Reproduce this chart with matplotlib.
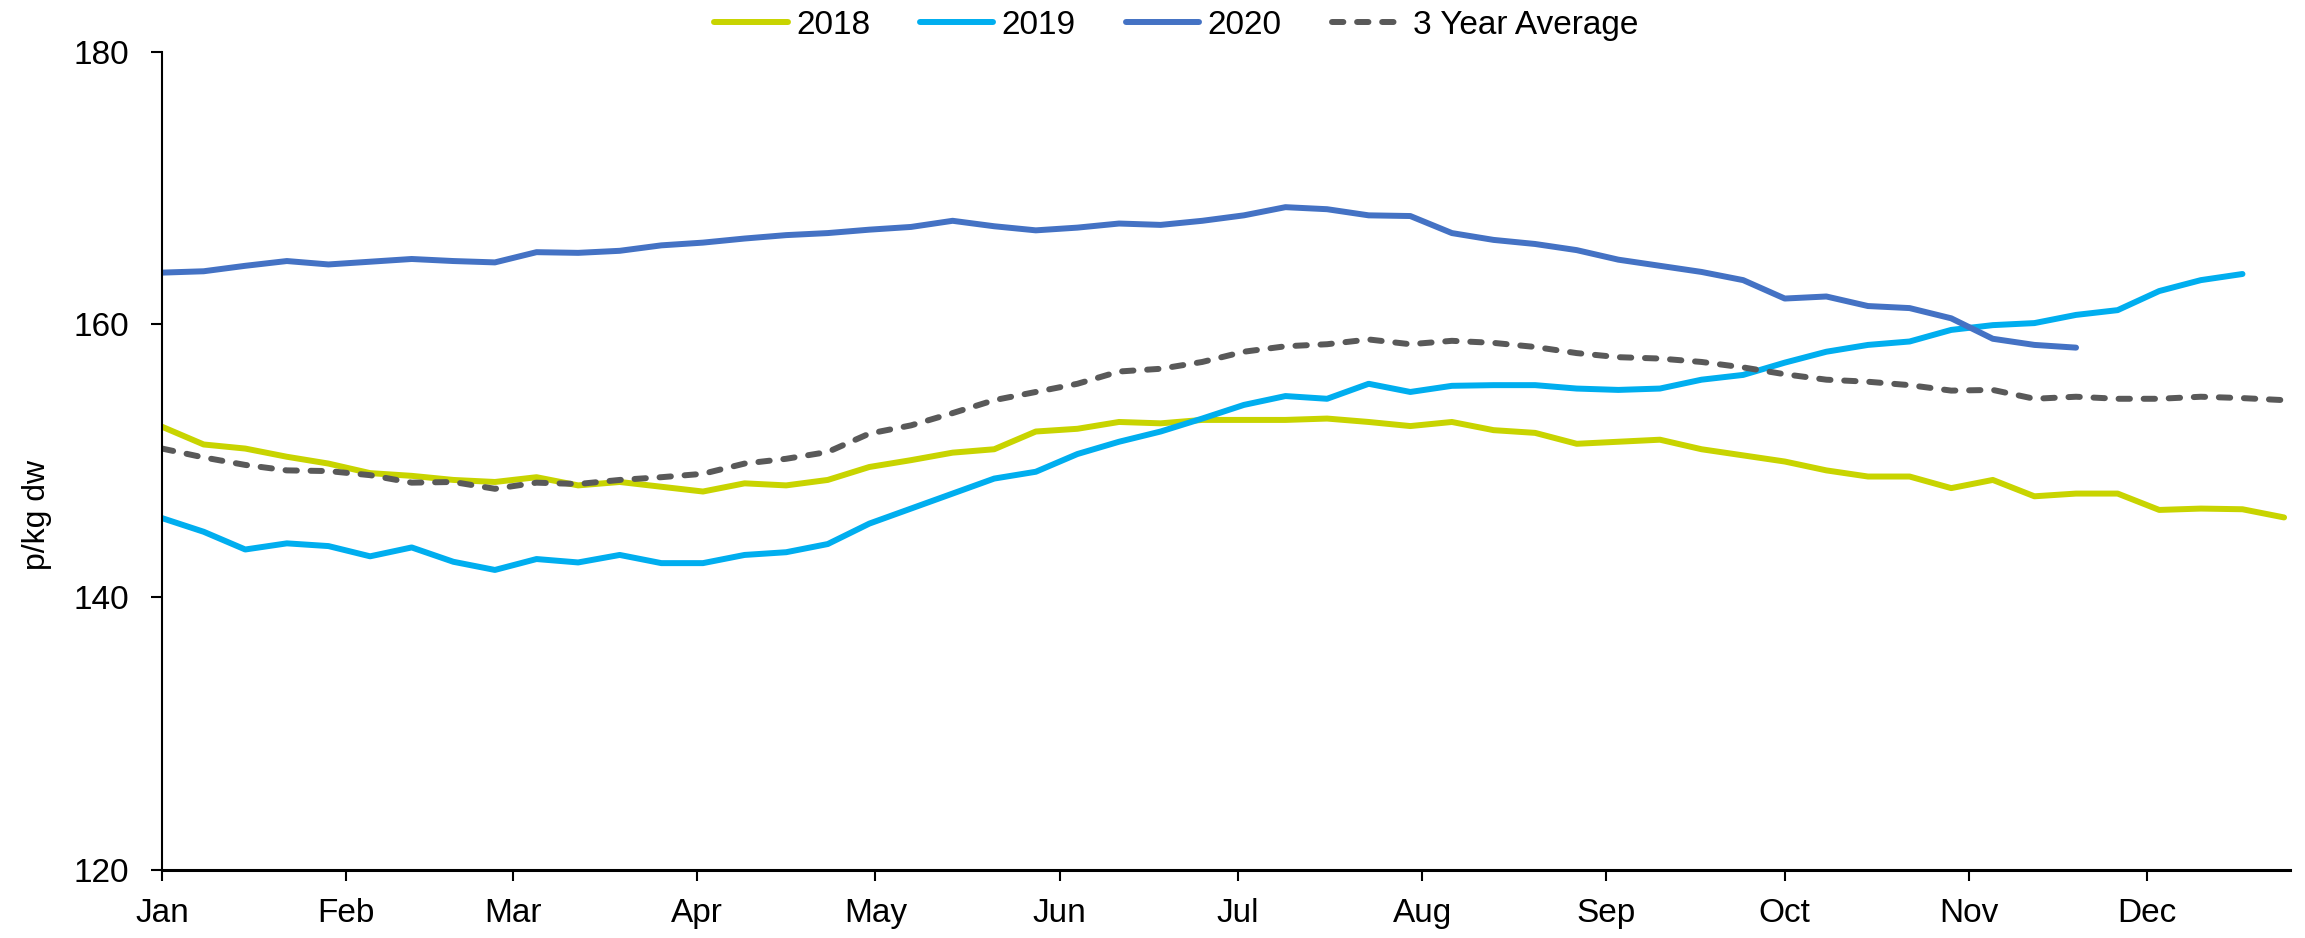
#!/usr/bin/env python
"""
Weekly deadweight prices, 2018-2020 and the 3 year average
"""

import matplotlib
matplotlib.use("Agg")
import matplotlib.pyplot as plt

# month tick labels and their day of year
MONTHS = ["Jan", "Feb", "Mar", "Apr", "May", "Jun",
          "Jul", "Aug", "Sep", "Oct", "Nov", "Dec"]
MONTH_DAYS = [0, 31, 59, 90, 120, 151, 181, 212, 243, 273, 304, 334]

# weekly prices in p/kg dw
price_2018 = [152.5, 151.2, 150.9, 150.3, 149.8, 149.1, 148.9, 148.6, 148.45, 148.8,
              148.2, 148.45, 148.1, 147.75, 148.35, 148.2, 148.6, 149.55, 150.05, 150.6,
              150.85, 152.15, 152.35, 152.85, 152.75, 153.0, 153.0, 153.0, 153.1, 152.85,
              152.55, 152.85, 152.25, 152.05, 151.25, 151.4, 151.55, 150.85, 150.4, 149.95,
              149.3, 148.85, 148.85, 148.0, 148.6, 147.4, 147.6, 147.6, 146.4, 146.5,
              146.45, 145.85]
price_2019 = [145.8, 144.8, 143.5, 143.95, 143.75, 143.0, 143.65, 142.6, 142.0, 142.8,
              142.55, 143.1, 142.5, 142.5, 143.1, 143.3, 143.9, 145.4, 146.5, 147.6,
              148.7, 149.2, 150.5, 151.4, 152.15, 153.1, 154.1, 154.75, 154.55, 155.65,
              155.05, 155.5, 155.55, 155.55, 155.3, 155.2, 155.3, 155.95, 156.3, 157.2,
              158.0, 158.5, 158.75, 159.6, 159.95, 160.1, 160.7, 161.05, 162.45, 163.25,
              163.7]
price_2020 = [163.8, 163.9, 164.3, 164.65, 164.4, 164.6, 164.8, 164.65, 164.55, 165.3,
              165.25, 165.4, 165.8, 166.0, 166.3, 166.55, 166.7, 166.95, 167.15, 167.6,
              167.2, 166.9, 167.1, 167.4, 167.3, 167.6, 168.0, 168.6, 168.45, 168.0,
              167.95, 166.7, 166.2, 165.9, 165.45, 164.75, 164.3, 163.85, 163.25, 161.9,
              162.05, 161.35, 161.2, 160.45, 158.95, 158.5, 158.3]
price_avg = [150.9, 150.25, 149.7, 149.3, 149.25, 148.95, 148.4, 148.45, 147.95, 148.4,
             148.3, 148.6, 148.8, 149.05, 149.8, 150.15, 150.65, 152.0, 152.6, 153.5,
             154.45, 155.05, 155.65, 156.55, 156.75, 157.25, 158.0, 158.4, 158.55, 158.9,
             158.55, 158.8, 158.65, 158.35, 157.9, 157.6, 157.5, 157.25, 156.85, 156.35,
             155.95, 155.8, 155.55, 155.15, 155.2, 154.55, 154.7, 154.55, 154.55, 154.7,
             154.6, 154.45]


def week_days(values):
    # one point per week, counted in days from 1 Jan
    return [7 * i for i in range(len(values))]


if __name__ == "__main__":
    plt.rcParams["font.family"] = ["Liberation Sans", "DejaVu Sans"]

    fig = plt.figure(figsize=(23.05, 9.38), dpi=100)
    ax = fig.add_axes([0.0703, 0.0725, 0.9232, 0.8724])

    LW = 4.3
    ax.plot(week_days(price_2018), price_2018, color="#C8D400", lw=LW,
            solid_capstyle="round", label="2018")
    ax.plot(week_days(price_2019), price_2019, color="#00AEEF", lw=LW,
            solid_capstyle="round", label="2019")
    ax.plot(week_days(price_2020), price_2020, color="#4472C4", lw=LW,
            solid_capstyle="round", label="2020")
    ax.plot(week_days(price_avg), price_avg, color="#595959", lw=LW,
            dashes=(1.9, 2.3), dash_capstyle="round", label="3 Year Average")

    ax.set_xlim(0, 358)
    ax.set_ylim(120, 180)
    ax.set_xticks(MONTH_DAYS)
    ax.set_xticklabels(MONTHS)
    ax.set_yticks([120, 140, 160, 180])

    for side in ["top", "right"]:
        ax.spines[side].set_visible(False)
    ax.spines["left"].set_linewidth(1.5)
    ax.spines["bottom"].set_linewidth(2.2)
    ax.tick_params(axis="y", direction="out", length=8, width=1.5,
                   labelsize=24, pad=16)
    ax.tick_params(axis="x", direction="out", length=8, width=1.5,
                   labelsize=24, pad=12)

    fig.text(37 / 2305, 1 - 515 / 938, "p/kg dw", rotation=90,
             ha="center", va="center", fontsize=23)

    ax.legend(loc="center", bbox_to_anchor=(0.5104, 0.973),
              bbox_transform=fig.transFigure, ncol=4, frameon=False,
              fontsize=24, handlelength=2.2, handletextpad=0.25,
              columnspacing=1.5)

    fig.savefig("out.png", dpi=100)
